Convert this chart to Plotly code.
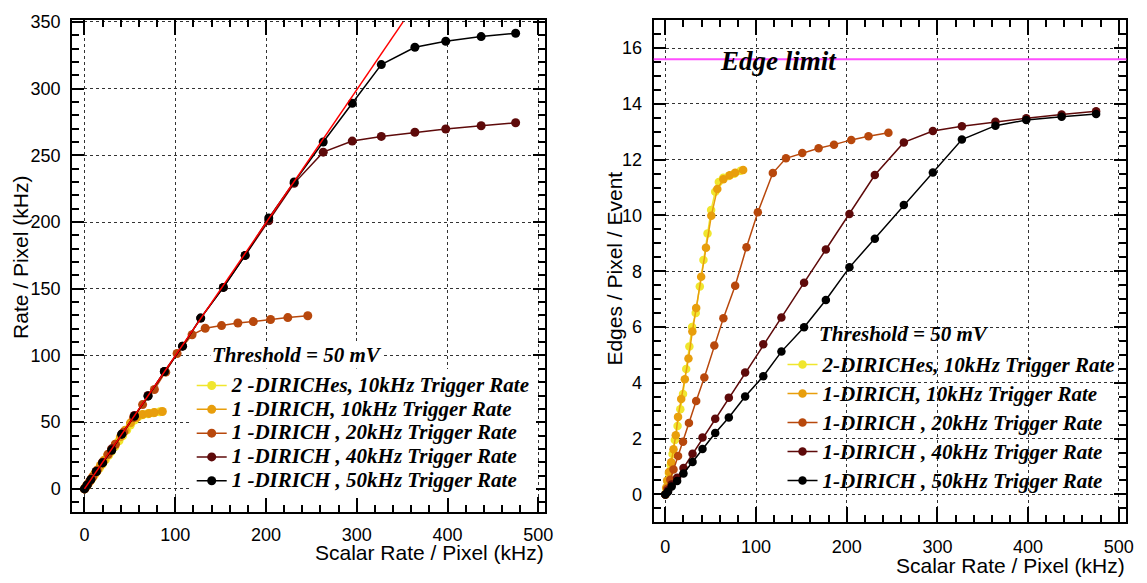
import plotly.graph_objects as go

# ---------------- data ----------------
# Scalar rate per pixel (kHz) for each configuration
x_2dirich_10k = [0, 1, 2.5, 4, 6, 8, 10.5, 13.5, 16.5, 19.5, 23, 26.5, 29.5, 33.5, 38, 42, 46.5, 50.5, 55, 59, 64, 70, 76, 83]
x_1dirich_10k = [0, 1, 2, 4, 6.5, 9, 11.5, 14, 17.5, 21.5, 25.5, 29.8, 34, 39.5, 44.8, 50.7, 57.3, 64, 71, 77, 85.8]
x_1dirich_20k = [0, 2, 5.5, 9, 14, 19.5, 26, 34, 43, 54, 64, 77, 89.5, 102, 118.5, 133, 151, 169, 186, 205, 224, 246]
x_1dirich_40k = [0, 3, 7, 13, 20, 30, 41, 55, 70, 88, 108, 128, 153, 177, 203, 231, 263, 295, 327, 364, 398, 437, 475]
x_1dirich_50k = [0, 3, 7, 13, 20, 30, 41, 55, 70, 88, 108, 128, 153, 177, 203, 231, 263, 295, 327, 364, 398, 437, 475]

# Left panel: measured rate per pixel (kHz)
rate_2dirich_10k = [0, 1, 2.4, 3.8, 5.7, 7.6, 10, 12.8, 15.6, 18.5, 21.8, 25.1, 28, 31.7, 36, 39.8, 44, 47.8, 51.5, 54, 55.5, 56.3, 57, 57.8]
rate_1dirich_10k = [0, 1, 2, 4, 6.5, 9, 11.5, 14, 17.5, 21.5, 25.5, 29.5, 33.5, 39, 44, 49.5, 53.5, 55.8, 56.6, 57.2, 58.0]
rate_1dirich_20k = [0, 2, 5.5, 9, 14, 19.5, 26, 33.5, 42.5, 53.5, 63.2, 74.5, 87.5, 101.5, 115.5, 120.4, 122.4, 124.3, 125.4, 127.0, 128.4, 129.8]
rate_1dirich_40k = [0, 3, 7, 13, 20, 30, 41, 55, 70, 88, 107, 128, 151, 175, 201, 229, 252.4, 260.7, 264.2, 267.3, 269.7, 272.2, 274.4]
rate_1dirich_50k = [0, 3, 7, 13, 19.5, 29, 41, 54.5, 69.5, 88, 107, 128, 151, 175, 203, 230, 260, 289, 318, 331, 335.5, 339, 341.5]

# Right panel: edges per pixel per event
edges_2dirich_10k = [0, 0.2, 0.45, 0.75, 1.05, 1.45, 1.95, 2.45, 3.05, 3.6, 4.5, 5.3, 6.0, 6.5, 7.45, 8.4, 9.35, 10.2, 10.85, 11.2, 11.35, 11.42, 11.5, 11.6]
edges_1dirich_10k = [0, 0.25, 0.5, 0.8, 1.15, 1.62, 2.12, 2.78, 3.42, 4.13, 4.87, 5.84, 6.68, 7.8, 8.84, 9.99, 10.95, 11.3, 11.44, 11.53, 11.63]
edges_1dirich_20k = [0, 0.2, 0.53, 0.89, 1.38, 1.89, 2.56, 3.35, 4.19, 5.34, 6.32, 7.48, 8.86, 10.12, 11.52, 12.05, 12.24, 12.41, 12.54, 12.71, 12.84, 12.97]
edges_1dirich_40k = [0, 0.15, 0.36, 0.6, 0.95, 1.46, 2.04, 2.71, 3.47, 4.37, 5.38, 6.34, 7.59, 8.78, 10.05, 11.45, 12.62, 13.03, 13.2, 13.36, 13.49, 13.62, 13.74]
edges_1dirich_50k = [0, 0.1, 0.28, 0.48, 0.75, 1.16, 1.63, 2.2, 2.76, 3.51, 4.24, 5.12, 5.99, 6.97, 8.14, 9.17, 10.38, 11.54, 12.72, 13.22, 13.42, 13.54, 13.64]

# Linear fit (left) and edge limit (right)
fit_x = [0, 351]
fit_y = [0, 350]
edge_limit = 15.6

labels_left = ["2 -DIRICHes, 10kHz Trigger Rate", "1 -DIRICH, 10kHz Trigger Rate",
               "1 -DIRICH , 20kHz Trigger Rate", "1 -DIRICH , 40kHz Trigger Rate",
               "1 -DIRICH , 50kHz Trigger Rate"]
labels_right = ["2-DIRICHes, 10kHz Trigger Rate", "1-DIRICH, 10kHz Trigger Rate",
                "1-DIRICH , 20kHz Trigger Rate", "1-DIRICH , 40kHz Trigger Rate",
                "1-DIRICH , 50kHz Trigger Rate"]
colors = ["#f0e62e", "#e89e0c", "#b8480c", "#5e0a0a", "#000000"]

xs = [x_2dirich_10k, x_1dirich_10k, x_1dirich_20k, x_1dirich_40k, x_1dirich_50k]
rates = [rate_2dirich_10k, rate_1dirich_10k, rate_1dirich_20k, rate_1dirich_40k, rate_1dirich_50k]
edges = [edges_2dirich_10k, edges_1dirich_10k, edges_1dirich_20k, edges_1dirich_40k, edges_1dirich_50k]

# page is 1147x583; the html body has an 8px default margin, so the figure is sized to fit after it
OFF = 8
W, H = 1147 - OFF, 583 - OFF
def px(v): return (v - OFF) / W
def py(v): return 1 - (v - OFF) / H

fig = go.Figure()

for i in range(5):
    fig.add_trace(go.Scatter(
        x=xs[i], y=rates[i], mode="lines+markers",
        name='<span style="font-size:21px">' + labels_left[i] + '</span>',
        line=dict(color=colors[i], width=1.5),
        marker=dict(color=colors[i], size=9),
        xaxis="x", yaxis="y", legend="legend"))

fig.add_trace(go.Scatter(x=fit_x, y=fit_y, mode="lines", line=dict(color="#ff0000", width=1.5),
                         showlegend=False, xaxis="x", yaxis="y"))

for i in range(5):
    fig.add_trace(go.Scatter(
        x=xs[i], y=edges[i], mode="lines+markers",
        name='<span style="font-size:21px">' + labels_right[i] + '</span>',
        line=dict(color=colors[i], width=1.5),
        marker=dict(color=colors[i], size=8.5),
        xaxis="x2", yaxis="y2", legend="legend2"))

tickfont = dict(family="Liberation Sans", size=18, color="black")
common = dict(showline=True, linewidth=2, linecolor="black", mirror="ticks",
              ticks="inside", tickwidth=1.5, tickcolor="black",
              showgrid=True, gridcolor="#333", griddash="dot", gridwidth=1,
              zeroline=False, tickfont=tickfont, ticklabeloverflow="allow")

fig.update_layout(
    width=W, height=H, margin=dict(l=0, r=0, t=0, b=0),
    plot_bgcolor="white", paper_bgcolor="white",
    xaxis=dict(domain=[px(72.7), px(549.3)], range=[-13.5, 507.9], anchor="y",
               dtick=100, tick0=0, ticklen=15, ticklabelstandoff=6,
               minor=dict(dtick=20, ticks="inside", ticklen=7, tickcolor="black", tickwidth=1.5, showgrid=False),
               **common),
    yaxis=dict(domain=[py(510.7), py(12.7)], range=[-17.0, 351.7], anchor="x",
               dtick=50, tick0=0, ticklen=12, ticklabelstandoff=6,
               minor=dict(dtick=10, ticks="inside", ticklen=7, tickcolor="black", tickwidth=1.5, showgrid=False),
               **common),
    xaxis2=dict(domain=[px(658.3), px(1134.3)], range=[-12.8, 508.4], anchor="y2",
                dtick=100, tick0=0, ticklen=15, ticklabelstandoff=8,
                minor=dict(dtick=20, ticks="inside", ticklen=7, tickcolor="black", tickwidth=1.5, showgrid=False),
                **common),
    yaxis2=dict(domain=[py(521), py(13.3)], range=[-0.98, 17.0], anchor="x2",
                dtick=2, tick0=0, ticklen=12, ticklabelstandoff=6,
                minor=dict(dtick=0.5, ticks="inside", ticklen=7, tickcolor="black", tickwidth=1.5, showgrid=False),
                **common),
    legend=dict(x=px(193), y=py(366), xanchor="left", yanchor="top",
                bgcolor="white", borderwidth=0,
                font=dict(family="Liberation Serif", size=16, weight="bold", style="italic", color="black")),
    legend2=dict(x=px(788), y=py(342), xanchor="left", yanchor="top",
                 bgcolor="rgba(0,0,0,0)", borderwidth=0,
                 font=dict(family="Liberation Serif", size=20, weight="bold", style="italic", color="black")),
)

fig.add_shape(type="line", xref="x2 domain", yref="y2", x0=0, x1=1, y0=edge_limit, y1=edge_limit,
              line=dict(color="#ff4dff", width=2))

serif_bi = dict(family="Liberation Serif", weight="bold", style="italic", color="black")
sans = dict(family="Liberation Sans", size=21, color="black")

fig.add_annotation(text="Edge limit", xref="paper", yref="paper", x=px(723), y=py(55),
                   xanchor="left", yanchor="middle", showarrow=False, font=dict(size=27, **serif_bi))
fig.add_annotation(text="Threshold = 50 mV", xref="paper", yref="paper", x=px(211), y=py(352),
                   xanchor="left", yanchor="middle", showarrow=False, bgcolor="white",
                   font=dict(size=21, **serif_bi))
fig.add_annotation(text="Threshold = 50 mV", xref="paper", yref="paper", x=px(823), y=py(331),
                   xanchor="left", yanchor="middle", showarrow=False, font=dict(size=21, **serif_bi))

fig.add_annotation(text="Scalar Rate / Pixel (kHz)", xref="paper", yref="paper", x=px(549.5), y=py(552),
                   xanchor="right", yanchor="middle", showarrow=False, font=sans)
fig.add_annotation(text="Scalar Rate / Pixel (kHz)", xref="paper", yref="paper", x=px(1134.5), y=py(565),
                   xanchor="right", yanchor="middle", showarrow=False, font=sans)
fig.add_annotation(text="Rate / Pixel (kHz)", xref="paper", yref="paper", x=px(20), y=py(253),
                   xanchor="center", yanchor="middle", textangle=-90, showarrow=False, font=sans)
fig.add_annotation(text="Edges / Pixel / Event", xref="paper", yref="paper", x=px(619), y=py(265),
                   xanchor="center", yanchor="middle", textangle=-90, showarrow=False, font=sans)

fig.write_html("out.html")
